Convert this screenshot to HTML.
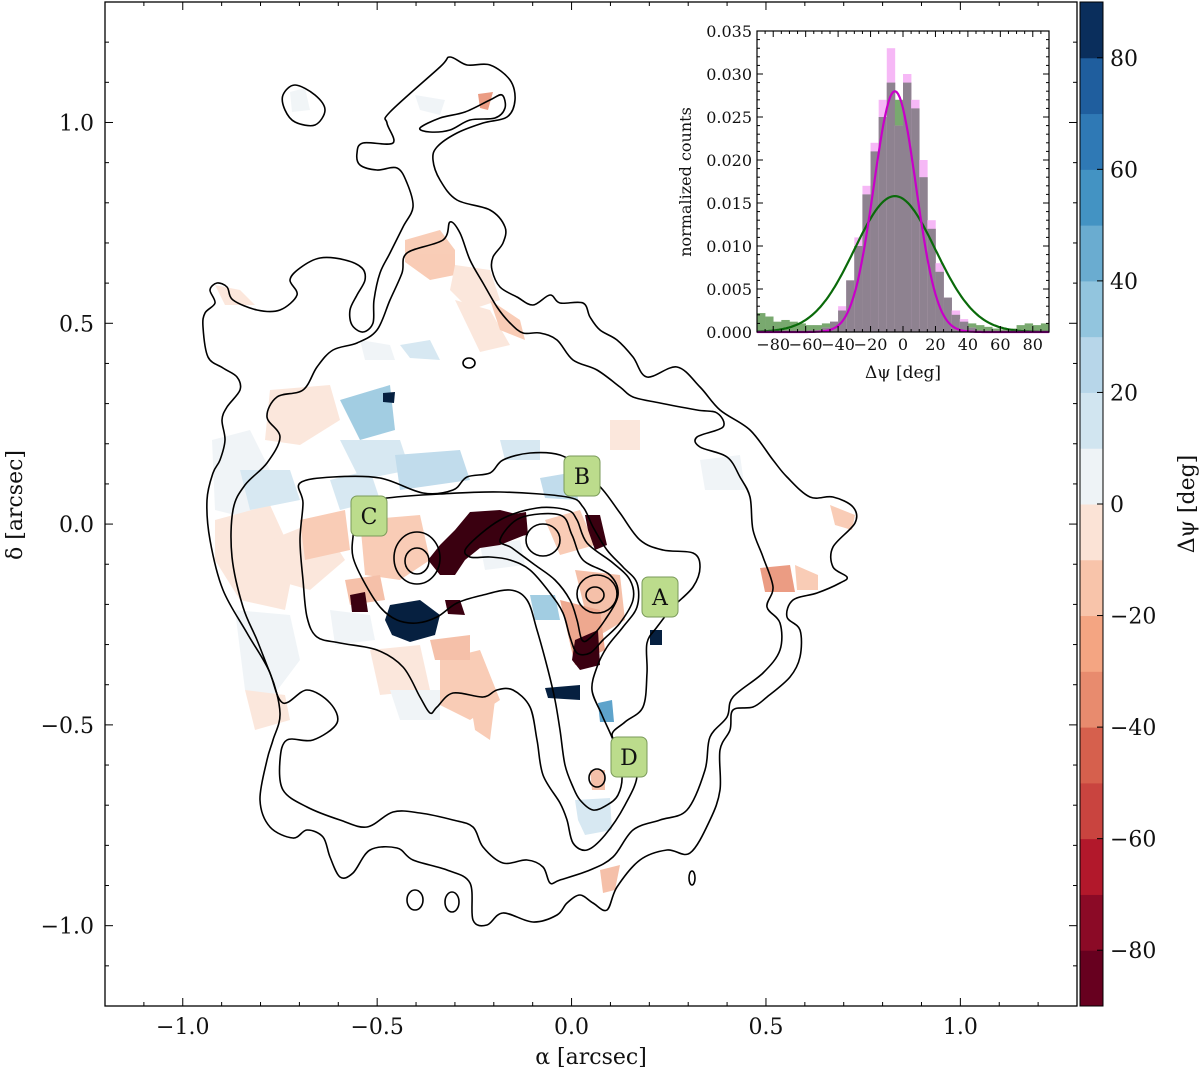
<!DOCTYPE html>
<html><head><meta charset="utf-8"><style>
html,body{margin:0;padding:0;background:#fff;}
svg text{font-family:"DejaVu Serif","Liberation Serif",serif;fill:#111;}
</style></head><body>
<svg id="fig" width="1200" height="1072" viewBox="0 0 1200 1072" xmlns="http://www.w3.org/2000/svg">
<rect width="1200" height="1072" fill="#fff"/>
<g id="map">
  <g id="patches" opacity="0.85">
    <path d="M405,240 L440,230 L455,250 L455,275 L430,280 L405,262Z" fill="#f8c4aa"/>
    <path d="M455,265 L490,270 L500,300 L470,310 L450,290Z" fill="#fbe3d6"/>
    <path d="M455,300 L490,310 L510,345 L480,352Z" fill="#fbe3d6"/>
    <path d="M490,300 L520,320 L525,340 L500,330Z" fill="#f8c4aa"/>
    <path d="M415,95 L445,100 L440,115 L420,110Z" fill="#eef3f6"/>
    <path d="M478,94 L493,92 L488,110 L480,108Z" fill="#e88b6e"/>
    <path d="M290,92 L305,88 L310,110 L292,112Z" fill="#eef3f6"/>
    <path d="M215,285 L240,290 L255,305 L225,305Z" fill="#fbe3d6"/>
    <path d="M400,345 L430,340 L440,360 L410,358Z" fill="#d1e5f0"/>
    <path d="M360,340 L390,345 L395,360 L365,360Z" fill="#eef3f6"/>
    <path d="M270,390 L330,385 L340,420 L300,445 L265,440Z" fill="#fbe3d6"/>
    <path d="M212,440 L250,430 L270,470 L255,520 L215,510Z" fill="#eef3f6"/>
    <path d="M215,520 L270,505 L295,560 L285,610 L240,600 L215,560Z" fill="#fbe3d6"/>
    <path d="M240,470 L290,470 L300,500 L250,510Z" fill="#d1e5f0"/>
    <path d="M235,610 L290,615 L300,660 L270,700 L245,690Z" fill="#eef3f6"/>
    <path d="M245,690 L285,695 L290,720 L255,730Z" fill="#fbe3d6"/>
    <path d="M270,540 L320,520 L345,560 L310,590 L275,580Z" fill="#fbe3d6"/>
    <path d="M340,400 L390,385 L395,430 L360,440Z" fill="#92c5de"/>
    <path d="M340,440 L400,440 L410,470 L360,480Z" fill="#d1e5f0"/>
    <path d="M395,455 L460,450 L470,480 L400,490Z" fill="#b7d6e9"/>
    <path d="M330,480 L370,470 L380,500 L340,510Z" fill="#d1e5f0"/>
    <path d="M300,520 L345,510 L350,550 L305,560Z" fill="#f8c4aa"/>
    <path d="M360,520 L420,515 L430,560 L400,580 L365,575Z" fill="#f8c4aa"/>
    <path d="M345,580 L380,575 L385,600 L350,605Z" fill="#f4b69b"/>
    <path d="M330,610 L370,615 L375,640 L335,645Z" fill="#eef3f6"/>
    <path d="M370,650 L420,645 L430,690 L380,695Z" fill="#fbe3d6"/>
    <path d="M440,660 L480,650 L500,700 L470,720 L440,705Z" fill="#f8c4aa"/>
    <path d="M430,640 L470,635 L470,660 L435,660Z" fill="#f4b69b"/>
    <path d="M390,690 L440,690 L440,720 L400,720Z" fill="#eef3f6"/>
    <path d="M470,700 L495,700 L490,740 L475,730Z" fill="#f8c4aa"/>
    <path d="M540,478 L575,472 L578,500 L545,498Z" fill="#b7d6e9"/>
    <path d="M545,520 L580,510 L595,545 L560,555Z" fill="#f8c4aa"/>
    <path d="M575,570 L620,575 L625,620 L600,635 L585,610Z" fill="#f4b69b"/>
    <path d="M560,600 L600,610 L605,650 L575,665Z" fill="#ec9a7c"/>
    <path d="M480,545 L520,540 L525,565 L485,570Z" fill="#eef3f6"/>
    <path d="M530,595 L555,595 L560,620 L535,620Z" fill="#92c5de"/>
    <path d="M500,440 L540,440 L540,460 L505,460Z" fill="#d1e5f0"/>
    <path d="M610,420 L640,420 L640,450 L610,450Z" fill="#fbe3d6"/>
    <path d="M700,460 L740,455 L745,490 L705,490Z" fill="#eef3f6"/>
    <path d="M760,568 L790,565 L795,592 L765,592Z" fill="#e88b6e"/>
    <path d="M795,565 L818,575 L818,590 L797,590Z" fill="#f8c4aa"/>
    <path d="M830,505 L855,515 L852,530 L835,525Z" fill="#f8c4aa"/>
    <path d="M598,703 L612,700 L614,722 L600,722Z" fill="#4393c3"/>
    <path d="M575,800 L610,798 L612,830 L585,835 L578,820Z" fill="#d1e5f0"/>
    <path d="M600,870 L620,865 L615,890 L603,893Z" fill="#f4b69b"/>
    <path d="M590,770 L605,770 L605,790 L592,790Z" fill="#f4b69b"/>
  </g>
  <path d="M470,512 L500,510 L520,515 L525,535 L500,545 L480,548 L465,560 L455,575 L440,575 L428,560 L440,545 L455,530Z" fill="#3a0010"/>
  <path d="M508,515 L526,512 L528,535 L510,537Z" fill="#3a0010"/>
  <path d="M585,515 L600,515 L607,545 L595,550 L588,530Z" fill="#3a0010"/>
  <path d="M390,605 L420,600 L440,615 L435,635 L410,642 L392,635 L385,620Z" fill="#062040"/>
  <path d="M350,595 L365,592 L368,612 L352,612Z" fill="#3a0010"/>
  <path d="M445,600 L460,600 L465,615 L448,614Z" fill="#3a0010"/>
  <path d="M575,640 L598,630 L600,665 L580,670 L572,660Z" fill="#3a0010"/>
  <path d="M545,688 L580,685 L580,700 L548,698Z" fill="#062040"/>
  <path d="M383,393 L395,392 L394,403 L383,402Z" fill="#062040"/>
  <path d="M650,630 L662,630 L662,645 L650,645Z" fill="#062040"/>
  <g id="contours" fill="none" stroke="#000" stroke-width="1.6"></g>
  <g font-size="22" text-anchor="middle">
    <g><rect x="642" y="577" width="36" height="40" rx="6" fill="#bcdc8c" stroke="#7a9a5a" stroke-width="1"/><text x="660" y="605">A</text></g>
    <g><rect x="564" y="456" width="36" height="40" rx="6" fill="#bcdc8c" stroke="#7a9a5a" stroke-width="1"/><text x="582" y="484">B</text></g>
    <g><rect x="351" y="496" width="36" height="40" rx="6" fill="#bcdc8c" stroke="#7a9a5a" stroke-width="1"/><text x="369" y="524">C</text></g>
    <g><rect x="611" y="737" width="36" height="40" rx="6" fill="#bcdc8c" stroke="#7a9a5a" stroke-width="1"/><text x="629" y="765">D</text></g>
  </g>
</g>
<g id="mainAxes"></g>
<g id="cbar"></g>
<g id="inset"></g>
</svg>
<script>
const NS="http://www.w3.org/2000/svg";
function mk(tag,attrs,parent,txt){const e=document.createElementNS(NS,tag);for(const k in attrs)e.setAttribute(k,attrs[k]);if(txt!==undefined)e.textContent=txt;parent.appendChild(e);return e;}

const xTicks=[-1.0,-0.5,0.0,0.5,1.0];
const yTicks=[-1.0,-0.5,0.0,0.5,1.0];
const xDomain=[-1.2,1.3], yDomain=[-1.2,1.3];
const cbarBounds=[-90,90];
const cbarTicks=[-80,-60,-40,-20,0,20,40,60,80];
const cbarColors=["#67001f","#8b0a26","#b2182b","#c9443f","#d6604d","#e88b6e","#f4a582","#f8c4aa","#fbe3d6","#eef3f6","#d1e5f0","#b7d6e9","#92c5de","#6aacd0","#4393c3","#2f79b5","#1f5e9e","#0a2e5c"];
const binStarts=[-90,-85,-80,-75,-70,-65,-60,-55,-50,-45,-40,-35,-30,-25,-20,-15,-10,-5,0,5,10,15,20,25,30,35,40,45,50,55,60,65,70,75,80,85];
const greenCounts=[0.0022,0.0018,0.0012,0.0014,0.0012,0.0010,0.0008,0.0008,0.0010,0.0012,0.0025,0.006,0.010,0.016,0.021,0.025,0.029,0.027,0.029,0.026,0.018,0.012,0.007,0.004,0.002,0.0012,0.0010,0.0008,0.0006,0.0004,0.0003,0.0004,0.0008,0.0010,0.0008,0.0010];
const pinkCounts=[0,0,0,0,0,0,0,0,0.0005,0.0012,0.003,0.006,0.011,0.017,0.022,0.027,0.033,0.024,0.030,0.027,0.020,0.013,0.008,0.004,0.0025,0.0015,0.0005,0,0,0,0,0,0,0,0,0];
const fitMagenta=[0.028,-5,13];
const fitGreen=[0.0158,-5,25];
const insetXTicks=[-80,-60,-40,-20,0,20,40,60,80];
const insetYTicks=[0,0.005,0.010,0.015,0.020,0.025,0.030,0.035];

// contour outlines (image features)
const contourC1=[[390,112],[440,67],[450,57],[467,65],[490,65],[510,80],[515,100],[507,117],[483,123],[457,133],[437,147],[433,160],[440,180],[457,200],[490,210],[505,227],[503,243],[493,257],[492,270],[500,287],[517,297],[533,305],[550,295],[560,303],[583,303],[590,317],[600,330],[617,340],[633,357],[647,377],[677,367],[700,387],[720,410],[750,430],[773,460],[787,477],[810,497],[833,497],[853,507],[855,523],[833,547],[833,567],[847,577],[840,583],[817,593],[793,600],[787,617],[800,630],[800,657],[790,677],[767,697],[753,707],[733,710],[730,730],[720,750],[720,790],[710,820],[690,853],[667,850],[640,860],[617,887],[607,910],[593,903],[580,895],[567,903],[557,915],[533,922],[503,913],[487,925],[473,920],[470,883],[447,870],[413,860],[397,848],[370,850],[353,873],[340,877],[330,857],[323,837],[307,830],[293,838],[270,827],[260,800],[267,760],[273,740],[280,713],[270,673],[247,633],[223,590],[210,540],[207,500],[213,473],[220,460],[225,440],[222,420],[227,407],[240,390],[237,377],[223,368],[208,357],[203,327],[205,313],[215,303],[210,290],[217,283],[227,287],[233,300],[257,310],[280,310],[297,295],[290,280],[300,268],[320,258],[345,260],[362,268],[365,280],[357,295],[350,310],[352,325],[363,332],[373,323],[374,300],[380,273],[390,253],[403,227],[413,207],[407,183],[397,168],[377,170],[360,165],[357,153],[363,143],[393,143],[387,123]];
const contourC2=[[450,222],[460,233],[470,260],[483,283],[497,307],[510,323],[523,333],[540,333],[557,340],[573,360],[597,370],[620,387],[633,397],[660,403],[697,410],[717,413],[723,427],[697,437],[700,447],[727,457],[740,477],[750,497],[753,530],[763,557],[773,587],[767,607],[780,623],[780,650],[763,673],[733,697],[727,717],[710,737],[705,770],[687,810],[660,820],[633,830],[613,857],[590,870],[560,880],[550,883],[543,867],[527,860],[503,863],[483,847],[473,827],[453,820],[420,813],[393,812],[367,827],[340,820],[307,807],[283,790],[280,760],[287,740],[313,740],[337,723],[330,703],[307,690],[283,703],[270,673],[257,640],[243,607],[232,557],[233,510],[245,485],[267,463],[280,437],[267,417],[277,397],[303,390],[317,367],[333,350],[357,343],[377,330],[390,300],[402,273],[407,253],[443,240]];
const contourC3=[[303,503],[300,483],[333,477],[380,478],[423,493],[453,490],[467,477],[490,473],[503,460],[530,453],[560,455],[583,470],[603,490],[620,513],[640,540],[663,550],[693,553],[700,567],[693,587],[673,607],[657,627],[647,643],[647,673],[643,707],[625,722],[612,735],[625,752],[637,775],[625,805],[605,835],[587,850],[573,843],[567,820],[560,803],[543,775],[537,740],[530,707],[513,690],[497,690],[483,697],[453,693],[437,707],[430,713],[420,697],[403,667],[377,650],[340,643],[317,637],[307,617],[303,580],[300,540]];
const contourC4=[[387,498],[440,494],[500,492],[567,497],[583,507],[593,527],[607,550],[623,567],[637,583],[637,607],[623,627],[607,647],[597,667],[592,690],[602,715],[615,745],[622,775],[618,795],[607,805],[593,810],[580,800],[573,787],[565,765],[560,730],[555,700],[548,670],[537,630],[527,600],[510,590],[483,595],[457,603],[437,617],[417,623],[397,620],[380,607],[363,580],[353,557],[353,537],[357,520],[373,502]];
const contourC5=[[467,547],[500,520],[537,508],[567,510],[577,520],[587,543],[613,563],[630,580],[633,600],[620,623],[603,640],[590,653],[577,653],[570,637],[563,613],[550,593],[530,570],[510,560],[490,557],[470,557]];
const contourC6=[[500,540],[520,518],[560,515],[572,535],[583,560],[610,575],[618,595],[605,620],[590,638],[582,640],[577,620],[570,600],[555,580],[535,565],[512,548]];
const contourC7=[[283,95],[295,85],[315,95],[325,110],[315,125],[295,122],[285,110]];
const contourHole=[[420,128],[440,118],[465,112],[490,100],[502,95],[505,108],[495,118],[470,120],[450,130],[430,132]];

(function(){
 const g=document.getElementById('contours');
 function smooth(pts){let d='M'+pts[0][0]+','+pts[0][1];const n=pts.length;
  for(let i=0;i<n;i++){const p0=pts[(i-1+n)%n],p1=pts[i],p2=pts[(i+1)%n],p3=pts[(i+2)%n];
   const c1x=p1[0]+(p2[0]-p0[0])/6,c1y=p1[1]+(p2[1]-p0[1])/6,c2x=p2[0]-(p3[0]-p1[0])/6,c2y=p2[1]-(p3[1]-p1[1])/6;
   d+=`C${c1x.toFixed(1)},${c1y.toFixed(1)} ${c2x.toFixed(1)},${c2y.toFixed(1)} ${p2[0]},${p2[1]}`;}
  return d+'Z';}
 [contourC1,contourC2,contourC3,contourC4,contourC5,contourC6,contourC7,contourHole].forEach(c=>{
  const p=mk('path',{d:smooth(c)},g);
  
  });
 const ells=[[417,558,23,26],[417,561,12,13],[543,540,17,16],[597,594,20,19],[595,595,9,8],[597,778,8,9],[415,900,8,10],[452,902,7,10],[692,878,3,7],[469,363,6,5]];
 ells.forEach(e=>{const el=mk('ellipse',{cx:e[0],cy:e[1],rx:e[2],ry:e[3]},g);
  
  });
})();

(function(){
 const g=document.getElementById('mainAxes');
 const L=105,R=1077,T=2,B=1006;
 const sx=v=>L+(v-xDomain[0])/(xDomain[1]-xDomain[0])*(R-L);
 const sy=v=>B-(v-yDomain[0])/(yDomain[1]-yDomain[0])*(B-T);
 const fmt=v=>(v<0?"\u2212":"")+Math.abs(v).toFixed(1);
 for(let v=-1.2;v<=1.3001;v+=0.1){const x=sx(v),y=sy(v);
  const maj=Math.abs(Math.round(v*2)-v*2)<1e-6; const len=maj?8:4;
  mk('line',{x1:x,y1:B,x2:x,y2:B-len,stroke:'#000','stroke-width':1},g);
  mk('line',{x1:x,y1:T,x2:x,y2:T+len,stroke:'#000','stroke-width':1},g);
  mk('line',{x1:L,y1:y,x2:L+len,y2:y,stroke:'#000','stroke-width':1},g);
  mk('line',{x1:R,y1:y,x2:R-len,y2:y,stroke:'#000','stroke-width':1},g);}
 xTicks.forEach(v=>{const t=mk('text',{x:sx(v),y:1034,'font-size':22,'text-anchor':'middle'},g,fmt(v));
  
  });
 yTicks.forEach(v=>{const t=mk('text',{x:94,y:sy(v)+8,'font-size':22,'text-anchor':'end'},g,fmt(v));
  
  });
 mk('rect',{x:L,y:T,width:R-L,height:B-T,fill:'none',stroke:'#000','stroke-width':1.3},g);
 const xl=mk('text',{x:591,y:1064,'font-size':22,'text-anchor':'middle'},g,'\u03b1 [arcsec]');
 
 
 const yl=mk('text',{x:0,y:0,'font-size':22,'text-anchor':'middle',transform:'translate(22,505) rotate(-90)'},g,'\u03b4 [arcsec]');
 
 
})();

(function(){
 const g=document.getElementById('cbar');
 
 
 const L=1080,R=1103,T=2,B=1006;
 const sy=v=>B-(v-cbarBounds[0])/(cbarBounds[1]-cbarBounds[0])*(B-T);
 cbarColors.forEach((c,i)=>{const v0=cbarBounds[0]+i*10;
  const r=mk('rect',{x:L,y:sy(v0+10),width:R-L,height:sy(v0)-sy(v0+10)+0.5,fill:c},g);
  
  });
 mk('rect',{x:L,y:T,width:R-L,height:B-T,fill:'none',stroke:'#000','stroke-width':1},g);
 cbarTicks.forEach(v=>{const y=sy(v);
  mk('line',{x1:R-6,y1:y,x2:R,y2:y,stroke:'#000'},g);
  const t=mk('text',{x:1110,y:y+8,'font-size':22},g,(v<0?"\u2212":"")+Math.abs(v));
  
  });
 const tl=mk('text',{x:0,y:0,'font-size':22,'text-anchor':'middle',transform:'translate(1194,504) rotate(-90)'},g,'\u0394\u03c8 [deg]');
 
 
})();

(function(){
 const g=document.getElementById('inset');
 
 
 const L=757,R=1049,T=31,B=332;
 mk('rect',{x:L,y:T,width:R-L,height:B-T,fill:'#fff'},g);
 const sx=v=>L+(v+90)/180*(R-L);
 const sy=v=>B-v/0.035*(B-T);
 binStarts.forEach((b,i)=>{
  const gr=greenCounts[i],pk=pinkCounts[i],mn=Math.min(gr,pk);
  const x=sx(b),w=sx(b+5)-x+0.3;
  if(gr>0){const r=mk('rect',{x:x,y:sy(gr),width:w,height:B-sy(gr),fill:'#79a96f'},g);
   
   }
  if(pk>0){const r=mk('rect',{x:x,y:sy(pk),width:w,height:B-sy(pk),fill:'#f6b8f6'},g);
   
   }
  if(mn>0){const r=mk('rect',{x:x,y:sy(mn),width:w,height:B-sy(mn),fill:'#8e8290'},g);
   
   }
 });
 function gauss(p,col,name){let d='';for(let v=-90;v<=90;v+=1){const y=p[0]*Math.exp(-0.5*Math.pow((v-p[1])/p[2],2));d+=(v===-90?'M':'L')+sx(v).toFixed(1)+','+sy(y).toFixed(1);}
  const pth=mk('path',{d:d,fill:'none',stroke:col,'stroke-width':2.2},g);
  
  }
 gauss(fitGreen,'#0a6a0a','green-gaussian-fit');
 gauss(fitMagenta,'#c800c8','magenta-gaussian-fit');
 for(let v=-90;v<=90;v+=5){const x=sx(v),len=(v%20===0)?6:3;
  mk('line',{x1:x,y1:B,x2:x,y2:B-len,stroke:'#000'},g);mk('line',{x1:x,y1:T,x2:x,y2:T+len,stroke:'#000'},g);}
 for(let v=0;v<=0.0351;v+=0.001){const y=sy(v),maj=Math.abs(v*200-Math.round(v*200))<1e-6,len=maj?6:3;
  mk('line',{x1:L,y1:y,x2:L+len,y2:y,stroke:'#000'},g);mk('line',{x1:R,y1:y,x2:R-len,y2:y,stroke:'#000'},g);}
 mk('rect',{x:L,y:T,width:R-L,height:B-T,fill:'none',stroke:'#000','stroke-width':1.2},g);
 insetXTicks.forEach(v=>{const t=mk('text',{x:sx(v),y:350,'font-size':16,'text-anchor':'middle'},g,(v<0?"\u2212":"")+Math.abs(v));
  
  });
 insetYTicks.forEach(v=>{const t=mk('text',{x:752,y:sy(v)+6,'font-size':16,'text-anchor':'end'},g,v.toFixed(3));
  
  });
 const xt=mk('text',{x:903,y:378,'font-size':17,'text-anchor':'middle'},g,'\u0394\u03c8 [deg]');
 
 
 const yt=mk('text',{x:0,y:0,'font-size':16,'text-anchor':'middle',transform:'translate(691,182) rotate(-90)'},g,'normalized counts');
 
 
})();
</script>
</body></html>
